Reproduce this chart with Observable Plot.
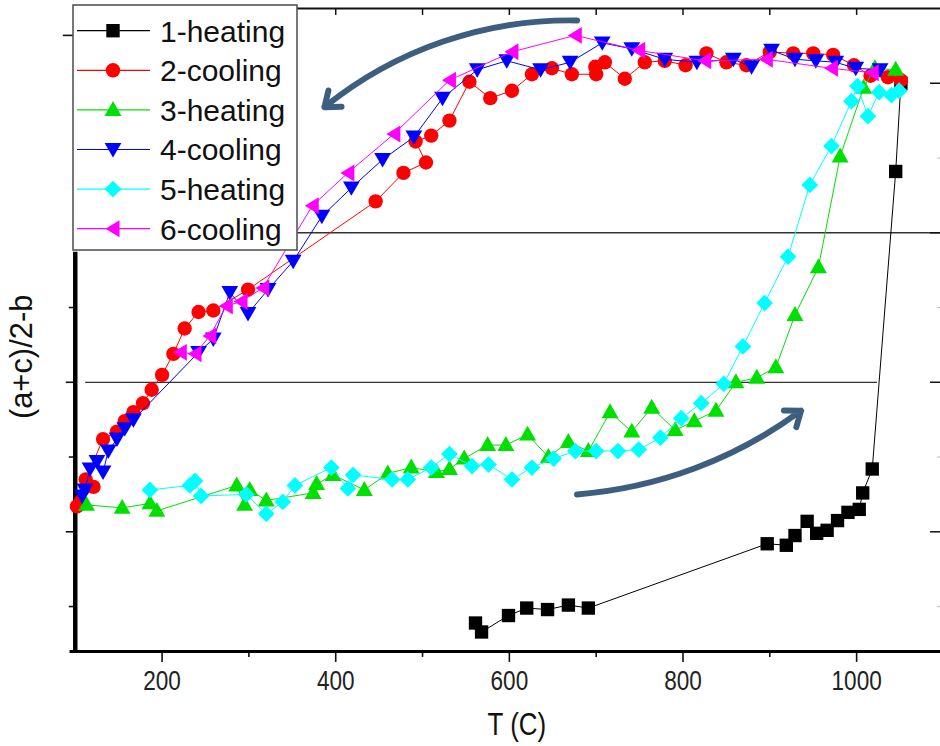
<!DOCTYPE html>
<html><head><meta charset="utf-8">
<script src="https://cdn.jsdelivr.net/npm/d3@7"></script>
<script src="https://cdn.jsdelivr.net/npm/@observablehq/plot@0.6"></script>
<style>
html,body{margin:0;padding:0;background:#fff;overflow:hidden;}
#wrap{position:relative;width:940px;height:746px;overflow:hidden;background:#fff;}
#wrap > svg{position:absolute;left:0;top:0;}
</style></head><body><div id="wrap"></div>
<script>
// ---- data: [T (C), (a+c)/2-b (arbitrary units)] ----
const heating1 = [[561,0.39],[568,0.33],[599,0.44],[620,0.49],[644,0.48],[668,0.51],[691,0.49],[897,0.92],[919,0.91],[929,0.975],[943,1.07],[954,0.99],[966,1.01],[978,1.075],[990,1.13],[1003,1.15],[1007,1.26],[1018,1.42],[1045,3.41],[1051,4.0]];
const cooling2 = [[1051,4.02],[1036,4.04],[1016,4.05],[997,4.12],[973,4.19],[950,4.20],[927,4.20],[900,4.21],[873,4.12],[850,4.14],[827,4.20],[803,4.12],[779,4.15],[756,4.14],[733,4.03],[710,4.14],[699,4.11],[700,4.06],[672,4.06],[649,4.10],[626,4.06],[603,3.95],[578,3.90],[554,4.01],[531,3.75],[510,3.65],[492,3.61],[504,3.47],[478,3.40],[446,3.21],[299,2.62],[259,2.48],[242,2.47],[226,2.36],[213,2.19],[200,2.05],[188,1.95],[178,1.86],[167,1.80],[157,1.74],[148,1.67],[132,1.62],[112,1.35],[121,1.30],[106,1.20],[102,1.17]];
const heating3 = [[113,1.18],[154,1.16],[186,1.19],[194,1.14],[286,1.31],[295,1.18],[301,1.28],[320,1.21],[374,1.26],[378,1.32],[397,1.38],[433,1.28],[460,1.39],[487,1.43],[516,1.40],[531,1.42],[548,1.49],[575,1.58],[596,1.58],[621,1.65],[645,1.50],[668,1.60],[691,1.54],[716,1.80],[741,1.67],[764,1.83],[791,1.68],[813,1.74],[838,1.81],[861,2.00],[885,2.03],[907,2.10],[929,2.45],[956,2.77],[981,3.51],[1008,3.97],[1021,4.10],[1045,4.09]];
const cooling4 = [[1027,4.09],[999,4.10],[976,4.14],[953,4.15],[929,4.16],[902,4.22],[879,4.11],[858,4.16],[816,4.14],[779,4.16],[741,4.23],[707,4.27],[670,4.14],[636,4.09],[597,4.15],[563,4.09],[523,3.90],[490,3.64],[454,3.49],[418,3.30],[384,3.11],[351,2.81],[322,2.62],[299,2.46],[278,2.60],[259,2.29],[242,2.20],[167,1.75],[157,1.69],[148,1.62],[138,1.54],[132,1.40],[125,1.47],[117,1.42],[111,1.28],[108,1.24]];
const heating5 = [[186,1.28],[232,1.31],[238,1.34],[245,1.24],[297,1.25],[320,1.12],[339,1.20],[353,1.31],[395,1.43],[414,1.29],[420,1.38],[465,1.35],[483,1.35],[510,1.43],[531,1.52],[557,1.44],[576,1.45],[603,1.35],[626,1.43],[651,1.49],[676,1.54],[700,1.54],[725,1.54],[749,1.55],[774,1.63],[798,1.76],[821,1.86],[847,1.99],[869,2.24],[894,2.53],[921,2.84],[946,3.32],[971,3.58],[994,3.88],[1001,3.98],[1013,3.78],[1026,3.94],[1040,3.92],[1049,3.95]];
const cooling6 = [[1018,4.07],[971,4.10],[896,4.16],[825,4.15],[749,4.22],[676,4.32],[603,4.21],[531,4.02],[467,3.66],[414,3.40],[373,3.18],[316,2.63],[291,2.54],[274,2.51],[255,2.31],[238,2.19],[221,2.20]];

const seriesNames = ["1-heating","2-cooling","3-heating","4-cooling","5-heating","6-cooling"];
const seriesColors = ["#000000","#ff0000","#00e000","#0000ff","#00ffff","#ff00ff"];
const seriesData = [heating1, cooling2, heating3, cooling4, heating5, cooling6];

// axis ticks
const xMajorTicks = [200,400,600,800,1000];
const xMinorTicks = [300,500,700,900];
const xTopTicks = [200,300,400,500,600,700,800,900,1000];
const xDomain = [100,1096.6];
const yDomain = [0.2,4.5];
const yLeftMajor = [1,2];
const yLeftMinor = [0.5,1.5,2.5];
const yLeftStray = [4.32];
const yRightMajor = [1,2,3,4];
const yRightMinor = [0.5,1.5,2.5,3.5];
const leftAxisTop = 2.87;
const refLines = [{y:3, x1:100, x2:1096.6},{y:2, x1:112, x2:1024}];
const arrowsHeat = [{x1:678, y1:1.25, x2:936, y2:1.81}];
const arrowsCool = [{x1:678, y1:4.42, x2:387, y2:3.84}];

// custom marker shapes
function mk(draw){ return {draw(c,size){ const s=Math.sqrt(size/Math.PI)/8; draw(c,s); }}; }
const symbols = [
  mk((c,s)=>{const h=6.7*s;c.moveTo(-h,-h);c.lineTo(h,-h);c.lineTo(h,h);c.lineTo(-h,h);c.closePath();}),
  mk((c,s)=>{const r=7.2*s;c.moveTo(r,0);c.arc(0,0,r,0,2*Math.PI);c.closePath();}),
  mk((c,s)=>{c.moveTo(0,-9*s);c.lineTo(8.5*s,6*s);c.lineTo(-8.5*s,6*s);c.closePath();}),
  mk((c,s)=>{c.moveTo(0,8*s);c.lineTo(8.4*s,-6.5*s);c.lineTo(-8.4*s,-6.5*s);c.closePath();}),
  mk((c,s)=>{const h=8.4*s;c.moveTo(0,-h);c.lineTo(h,0);c.lineTo(0,h);c.lineTo(-h,0);c.closePath();}),
  mk((c,s)=>{c.moveTo(-7.5*s,0);c.lineTo(6.5*s,-8.5*s);c.lineTo(6.5*s,8.5*s);c.closePath();})
];

const rows = seriesData.map((pts,i)=>pts.map(([T,y])=>({T,y,series:seriesNames[i]})));

const W = 943, H = 746, mL = 75, mT = 8, mB = 93;
const plotW = W - mL, plotH = H - mT - mB;
const sans = "'Liberation Sans',Arial,sans-serif";

const seriesMarks = rows.flatMap((r,i)=>[
  Plot.line(r,{x:"T",y:"y",stroke:seriesColors[i],strokeWidth:1}),
  Plot.dot(r,{x:"T",y:"y",r:8,symbol:symbols[i],fill:seriesColors[i],stroke:"none"})
]);

const chart = Plot.plot({
  width: W, height: H,
  marginLeft: mL, marginRight: 0, marginTop: mT, marginBottom: mB,
  x: {domain: xDomain, axis: null},
  y: {domain: yDomain, axis: null},
  style: {fontFamily: sans, background: "transparent", color: "#111", overflow: "visible"},
  marks: [
    Plot.ruleY(refLines,{y:"y",x1:"x1",x2:"x2",stroke:"#333",strokeWidth:1.3}),
    Plot.ruleY([yDomain[1]],{stroke:"#111",strokeWidth:2}),
    Plot.tickX(xTopTicks,{x:d=>d,insetBottom:plotH-7,stroke:"#111",strokeWidth:1.5}),
    Plot.tickY(yRightMajor,{y:d=>d,insetLeft:plotW-10,stroke:"#111",strokeWidth:1.5}),
    Plot.tickY(yRightMinor,{y:d=>d,insetLeft:plotW-3,stroke:"#bbb",strokeWidth:1}),
    Plot.axisX(xMajorTicks,{tickSize:11,tickPadding:9,fontSize:27,strokeWidth:1.6,label:null,fill:"#222",tickFormat:d=>String(d)}),
    Plot.axisX(xMinorTicks,{tickSize:6,tickFormat:()=>"",strokeWidth:1.6,label:null}),
    Plot.axisY(yLeftMajor,{anchor:"left",tickSize:9,tickFormat:()=>"",strokeWidth:1.6,label:null}),
    Plot.axisY(yLeftMinor,{anchor:"left",tickSize:6,tickFormat:()=>"",strokeWidth:1.6,label:null}),
    Plot.axisY(yLeftStray,{anchor:"left",tickSize:12,tickFormat:()=>"",strokeWidth:1.6,label:null}),
    Plot.ruleY([yDomain[0]],{x1:94,x2:xDomain[1],stroke:"#000",strokeWidth:3}),
    Plot.ruleX([xDomain[0]],{y1:yDomain[0],y2:leftAxisTop,stroke:"#000",strokeWidth:4.5}),
    ...seriesMarks,
    Plot.arrow(arrowsHeat,{x1:"x1",y1:"y1",x2:"x2",y2:"y2",bend:-16,stroke:"#3e5e80",strokeWidth:6,headLength:4.3,headAngle:75}),
    Plot.arrow(arrowsCool,{x1:"x1",y1:"y1",x2:"x2",y2:"y2",bend:-20,stroke:"#3e5e80",strokeWidth:6,headLength:4.3,headAngle:75}),
    Plot.text(["T (C)"],{frameAnchor:"bottom",textAnchor:"middle",dx:9,dy:84,fontSize:31,fill:"#111",className:"xlab"}),
    Plot.text(["(a+c)/2-b"],{frameAnchor:"left",textAnchor:"middle",rotate:-90,dx:-53,dy:27,fontSize:31,fill:"#111"})
  ]
});
const wrap = document.getElementById("wrap");
wrap.appendChild(chart);

// condense the x tick labels and x label (reference uses a narrow face)
d3.select(chart).selectAll('g[aria-label="x-axis tick label"] text, g.xlab text').each(function(){
  const w = this.getComputedTextLength();
  if (w > 0) { this.setAttribute("textLength", (w*0.84).toFixed(1)); this.setAttribute("lengthAdjust","spacingAndGlyphs"); }
});

// legend overlay
const lg = d3.select(wrap).append("svg")
  .attr("width",226).attr("height",248)
  .style("left","72px").style("top","4px");
lg.append("rect").attr("x",1).attr("y",1).attr("width",224).attr("height",245)
  .attr("fill","#fff").attr("stroke","#555").attr("stroke-width",1.6);
seriesNames.forEach((name,i)=>{
  const cy = 26.7 + 39.6*i;
  const g = lg.append("g");
  g.append("line").attr("x1",5).attr("x2",78).attr("y1",cy).attr("y2",cy)
    .attr("stroke",seriesColors[i]).attr("stroke-width",1.2);
  g.append("path").attr("transform",`translate(41,${cy})`)
    .attr("d",d3.symbol(symbols[i],Math.PI*64)()).attr("fill",seriesColors[i]);
  g.append("text").attr("x",88).attr("y",cy).attr("dy","0.36em")
    .attr("font-family",sans).attr("font-size",30)
    .attr("fill","#111").text(name);
});
</script></body></html>
